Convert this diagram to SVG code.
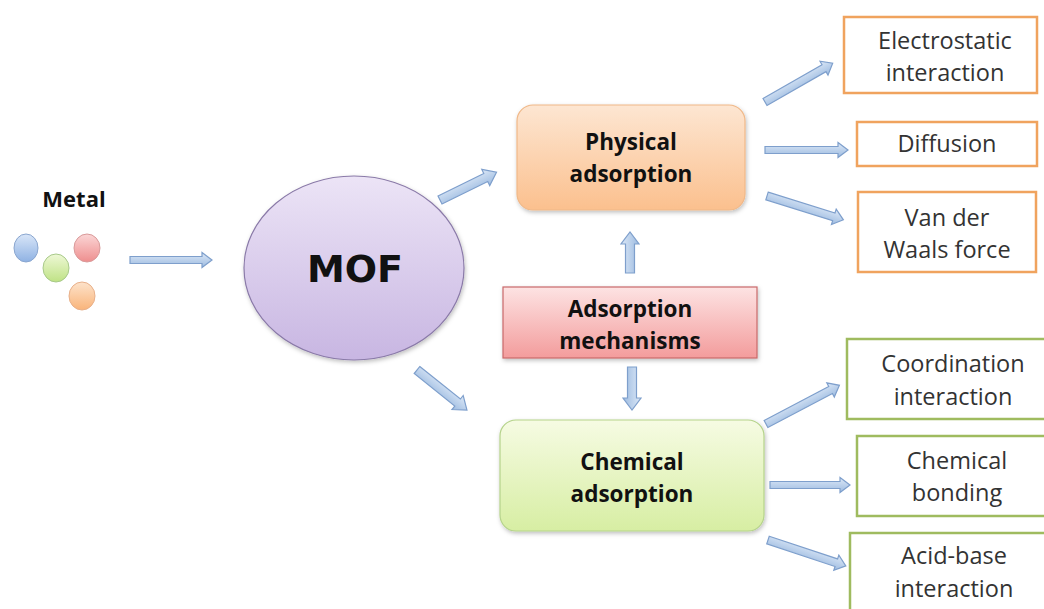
<svg xmlns="http://www.w3.org/2000/svg" width="1044" height="609" viewBox="0 0 1044 609">
<defs>
<linearGradient id="gArrow" x1="0" y1="0" x2="0" y2="1"><stop offset="0" stop-color="#dce8f7"/><stop offset="1" stop-color="#9dbbe0"/></linearGradient>
<linearGradient id="gOrange" x1="0" y1="0" x2="0" y2="1"><stop offset="0" stop-color="#fde6d2"/><stop offset="1" stop-color="#fbc08e"/></linearGradient>
<linearGradient id="gPink" x1="0" y1="0" x2="0" y2="1"><stop offset="0" stop-color="#fde3e3"/><stop offset="1" stop-color="#f39c9c"/></linearGradient>
<linearGradient id="gGreen" x1="0" y1="0" x2="0" y2="1"><stop offset="0" stop-color="#f6fbe3"/><stop offset="1" stop-color="#d7eea3"/></linearGradient>
<linearGradient id="gPurple" x1="0" y1="0" x2="0" y2="1"><stop offset="0" stop-color="#ece4f6"/><stop offset="1" stop-color="#c8b6e2"/></linearGradient>
<linearGradient id="gBlue" x1="0" y1="0" x2="0" y2="1"><stop offset="0" stop-color="#d9e6f8"/><stop offset="1" stop-color="#8fb2e3"/></linearGradient>
<linearGradient id="gRed" x1="0" y1="0" x2="0" y2="1"><stop offset="0" stop-color="#fbd6d6"/><stop offset="1" stop-color="#ee8e8e"/></linearGradient>
<linearGradient id="gLime" x1="0" y1="0" x2="0" y2="1"><stop offset="0" stop-color="#eef8d6"/><stop offset="1" stop-color="#bfe285"/></linearGradient>
<linearGradient id="gPeach" x1="0" y1="0" x2="0" y2="1"><stop offset="0" stop-color="#fde3cb"/><stop offset="1" stop-color="#f9b47a"/></linearGradient>
<filter id="shadow" x="-10%" y="-10%" width="130%" height="140%"><feDropShadow dx="1" dy="2" stdDeviation="2" flood-color="#000" flood-opacity="0.25"/></filter>
</defs>
<style>
.arrow{fill:url(#gArrow);stroke:#7e9fcc;stroke-width:1.2}
.bold{font-family:"Open Sans","Liberation Sans",sans-serif;font-weight:bold;fill:#111;text-anchor:middle;font-size:22.5px}
.reg{font-family:"Open Sans","Liberation Sans",sans-serif;fill:#333;text-anchor:middle;font-size:23.5px}
.obox{fill:#fff;stroke:#f0a35e;stroke-width:2.5}
.gbox{fill:#fff;stroke:#9fbb5f;stroke-width:2.5}
</style>
<g id="metal">
<text class="bold" x="74" y="207" style="font-size:22px">Metal</text>
<ellipse cx="26" cy="248" rx="12" ry="14" fill="url(#gBlue)" stroke="#8aa6cf" stroke-width="1"/>
<ellipse cx="87" cy="248" rx="13" ry="14" fill="url(#gRed)" stroke="#d99a9a" stroke-width="1"/>
<ellipse cx="56" cy="268" rx="13" ry="14" fill="url(#gLime)" stroke="#a8c98a" stroke-width="1"/>
<ellipse cx="82" cy="296" rx="13" ry="14" fill="url(#gPeach)" stroke="#e8b08a" stroke-width="1"/>
</g>
<g id="mof">
<ellipse cx="354" cy="268" rx="110" ry="92" fill="url(#gPurple)" stroke="#8a7aa8" stroke-width="1.2" filter="url(#shadow)"/>
<text class="bold" x="355" y="282" style="font-size:38px;font-family:'DejaVu Sans',sans-serif">MOF</text>
</g>
<g id="physical">
<rect x="517" y="105" width="228" height="105" rx="16" fill="url(#gOrange)" stroke="#f0b888" stroke-width="1.2" filter="url(#shadow)"/>
<text class="bold" x="631" y="150" >Physical</text>
<text class="bold" x="631" y="182">adsorption</text>
</g>
<g id="mechanisms">
<rect x="503" y="287" width="254" height="71" fill="url(#gPink)" stroke="#c9696a" stroke-width="1.2" filter="url(#shadow)"/>
<text class="bold" x="630" y="317">Adsorption</text>
<text class="bold" x="630" y="349">mechanisms</text>
</g>
<g id="chemical">
<rect x="500" y="420" width="264" height="111" rx="16" fill="url(#gGreen)" stroke="#b5d38a" stroke-width="1.2" filter="url(#shadow)"/>
<text class="bold" x="632" y="470">Chemical</text>
<text class="bold" x="632" y="502">adsorption</text>
</g>
<g id="electrostatic">
<rect class="obox" x="844" y="17" width="193" height="76"/>
<text class="reg" x="945" y="49">Electrostatic</text>
<text class="reg" x="945" y="81">interaction</text>
</g>
<g id="diffusion">
<rect class="obox" x="857" y="122" width="180" height="44"/>
<text class="reg" x="947" y="152">Diffusion</text>
</g>
<g id="vanderwaals">
<rect class="obox" x="858" y="192" width="178" height="80"/>
<text class="reg" x="947" y="226">Van der</text>
<text class="reg" x="947" y="258">Waals force</text>
</g>
<g id="coordination">
<rect class="gbox" x="847" y="339" width="200" height="80"/>
<text class="reg" x="953" y="372">Coordination</text>
<text class="reg" x="953" y="405">interaction</text>
</g>
<g id="bonding">
<rect class="gbox" x="857" y="436" width="190" height="80"/>
<text class="reg" x="957" y="469">Chemical</text>
<text class="reg" x="957" y="501">bonding</text>
</g>
<g id="acidbase">
<rect class="gbox" x="850" y="533" width="197" height="80"/>
<text class="reg" x="954" y="564">Acid-base</text>
<text class="reg" x="954" y="597">interaction</text>
</g>
<g id="connectors">
<path class="arrow" transform="translate(130,260)" d="M0,-3.5 H72 V-7.5 L82,0 L72,7.5 V3.5 H0 Z"/>
<path class="arrow" transform="translate(440,200) rotate(-26.2)" d="M0,-4.5 H51 V-9 L63,0 L51,9 V4.5 H0 Z"/>
<path class="arrow" transform="translate(417,370) rotate(38.7)" d="M0,-4.5 H52 V-9 L64,0 L52,9 V4.5 H0 Z"/>
<path class="arrow" transform="translate(630,273) rotate(-90)" d="M0,-4.5 H29 V-9 L41,0 L29,9 V4.5 H0 Z"/>
<path class="arrow" transform="translate(632,367) rotate(90)" d="M0,-4.5 H31 V-9 L43,0 L31,9 V4.5 H0 Z"/>
<path class="arrow" transform="translate(765,102) rotate(-29.8)" d="M0,-4 H68 V-8 L78,0 L68,8 V4 H0 Z"/>
<path class="arrow" transform="translate(765,150)" d="M0,-3.5 H73 V-7.5 L83,0 L73,7.5 V3.5 H0 Z"/>
<path class="arrow" transform="translate(767,196) rotate(17.3)" d="M0,-4 H70 V-8 L80,0 L70,8 V4 H0 Z"/>
<path class="arrow" transform="translate(766,424) rotate(-27.8)" d="M0,-4 H73 V-8 L83,0 L73,8 V4 H0 Z"/>
<path class="arrow" transform="translate(770,485)" d="M0,-3.5 H70 V-7.5 L80,0 L70,7.5 V3.5 H0 Z"/>
<path class="arrow" transform="translate(768,540) rotate(18.4)" d="M0,-4 H72 V-8 L82,0 L72,8 V4 H0 Z"/>
</g>
</svg>
